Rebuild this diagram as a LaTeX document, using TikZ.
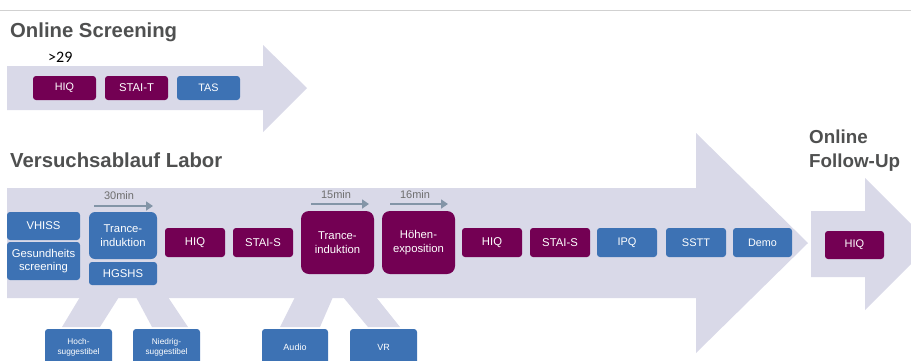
\documentclass[tikz,border=0pt]{standalone}
\usepackage{fontspec}
\setmainfont{Liberation Sans}
\newfontfamily\calibri{Carlito}
\usetikzlibrary{arrows.meta}
\definecolor{purp}{HTML}{730053}
\definecolor{blu}{HTML}{3D72B4}
\definecolor{lav}{HTML}{D9D9E8}
\definecolor{ttl}{HTML}{4F5050}
\definecolor{slate}{HTML}{8395A7}
\definecolor{mintxt}{HTML}{6E6E6E}
\tikzset{
  box/.style={text=white, inner sep=0pt, align=center, rounded corners=3pt, font=\fontsize{11.3}{13.5}\selectfont},
  pbox/.style={box, fill=purp},
  bbox/.style={box, fill=blu},
  smallbox/.style={font=\fontsize{8.3}{10.5}\selectfont},
  title/.style={text=ttl, font=\bfseries\fontsize{20.3}{24}\selectfont, anchor=base west, inner sep=0pt, align=left},
  bigarrow/.style={fill=lav, draw=none},
  timearrow/.style={draw=slate, line width=2.6pt, -{Triangle[length=7pt,width=9pt]}},
  timelabel/.style={text=mintxt, font=\fontsize{11}{12}\selectfont, inner sep=0pt},
}
\begin{document}
\begin{tikzpicture}[x=1pt,y=-1pt]
\useasboundingbox (0,0) rectangle (911,360);
\clip (0,0) rectangle (911,360);
% separator line
\draw[draw=black!18, line width=0.8pt] (0,10) -- (911,10);
% titles
\node[title] (t1) at (10,37) {Online Screening};
\node[anchor=base west, inner sep=0pt, font=\calibri\fontsize{16}{18}\selectfont] (gt) at (48,62) {>29};
\node[title] (t2) at (10,167) {Versuchsablauf Labor};
\node[title, font=\bfseries\fontsize{18.8}{24}\selectfont] (t3) at (809,167) {Online\\Follow-Up};
% big arrows
\fill[bigarrow] (7,66) -- (263,66) -- (263,45) -- (307,88) -- (263,132) -- (263,110) -- (7,110) -- cycle;
\fill[bigarrow] (7,188) -- (696,188) -- (696,133) -- (808,243) -- (696,353) -- (696,298) -- (7,298) -- cycle;
\fill[bigarrow] (811,211) -- (865,211) -- (865,178) -- (931,244) -- (865,310) -- (865,277) -- (811,277) -- cycle;
% legs
\fill[bigarrow] (80,297) -- (119,297) -- (100,327) -- (62,327) -- cycle;
\fill[bigarrow] (136,297) -- (168,297) -- (188,327) -- (152,327) -- cycle;
\fill[bigarrow] (295,297) -- (333,297) -- (320,327) -- (280,327) -- cycle;
\fill[bigarrow] (343,297) -- (376,297) -- (400,327) -- (368,327) -- cycle;
% online screening boxes
\node[pbox, minimum width=63pt, minimum height=24pt, font=\fontsize{10.8}{12}\selectfont] (hiqA) at (64.5,88) {HIQ};
\node[pbox, minimum width=63pt, minimum height=24pt, font=\fontsize{11.3}{12}\selectfont] (staiT) at (136.5,88) {STAI-T};
\node[bbox, minimum width=63pt, minimum height=24pt, font=\fontsize{10.8}{12}\selectfont] (tas) at (208.5,88) {TAS};
% lab boxes
\node[bbox, minimum width=73pt, minimum height=28pt] (vhiss) at (43.5,226) {VHISS};
\node[bbox, minimum width=73pt, minimum height=38pt] (gesund) at (43.5,261) {Gesundheits\\screening};
\node[bbox, minimum width=68pt, minimum height=47pt, rounded corners=6pt] (tr1) at (123,235.5) {Trance-\\induktion};
\node[bbox, minimum width=68pt, minimum height=23pt] (hgshs) at (123,273.5) {HGSHS};
\node[pbox, minimum width=60pt, minimum height=29pt] (hiqB) at (195,242.5) {HIQ};
\node[pbox, minimum width=60pt, minimum height=29pt] (staiS1) at (263,242.5) {STAI-S};
\node[pbox, minimum width=73pt, minimum height=63pt, rounded corners=8pt] (tr2) at (337.5,242.5) {Trance-\\induktion};
\node[pbox, minimum width=73pt, minimum height=63pt, rounded corners=8pt] (hoehen) at (418.5,242.5) {Höhen-\\exposition};
\node[pbox, minimum width=60pt, minimum height=29pt] (hiqC) at (492,242.5) {HIQ};
\node[pbox, minimum width=60pt, minimum height=29pt] (staiS2) at (560,242.5) {STAI-S};
\node[bbox, minimum width=60pt, minimum height=29pt, font=\fontsize{11}{12}\selectfont] (ipq) at (627,242.5) {IPQ};
\node[bbox, minimum width=60pt, minimum height=29pt, font=\fontsize{11}{12}\selectfont] (sstt) at (696,242.5) {SSTT};
\node[bbox, minimum width=59pt, minimum height=29pt, font=\fontsize{10.8}{12}\selectfont] (demo) at (762.5,242.5) {Demo};
\node[pbox, minimum width=59pt, minimum height=28pt, font=\fontsize{11}{12}\selectfont] (hiqD) at (854.5,245) {HIQ};
% bottom boxes
\node[bbox, smallbox, minimum width=67pt, minimum height=37pt] (hoch) at (78.5,347.5) {Hoch-\\suggestibel};
\node[bbox, smallbox, minimum width=67pt, minimum height=37pt] (nied) at (166.5,347.5) {Niedrig-\\suggestibel};
\node[bbox, minimum width=66pt, minimum height=37pt, font=\fontsize{9}{11}\selectfont] (audio) at (295,347.5) {Audio};
\node[bbox, minimum width=67pt, minimum height=37pt, font=\fontsize{9}{11}\selectfont] (vr) at (383.5,347.5) {VR};
% time arrows
\coordinate (a30s) at (94,206); \coordinate (a30e) at (153,206);
\coordinate (a15s) at (311,204); \coordinate (a15e) at (369,204);
\coordinate (a16s) at (390,204); \coordinate (a16e) at (448,204);
\draw[timearrow] (a30s) -- (a30e);
\draw[timearrow] (a15s) -- (a15e);
\draw[timearrow] (a16s) -- (a16e);
\node[timelabel] (l30) at (119,196) {30min};
\node[timelabel] (l15) at (336,195) {15min};
\node[timelabel] (l16) at (415,195) {16min};
\end{tikzpicture}
\end{document}
